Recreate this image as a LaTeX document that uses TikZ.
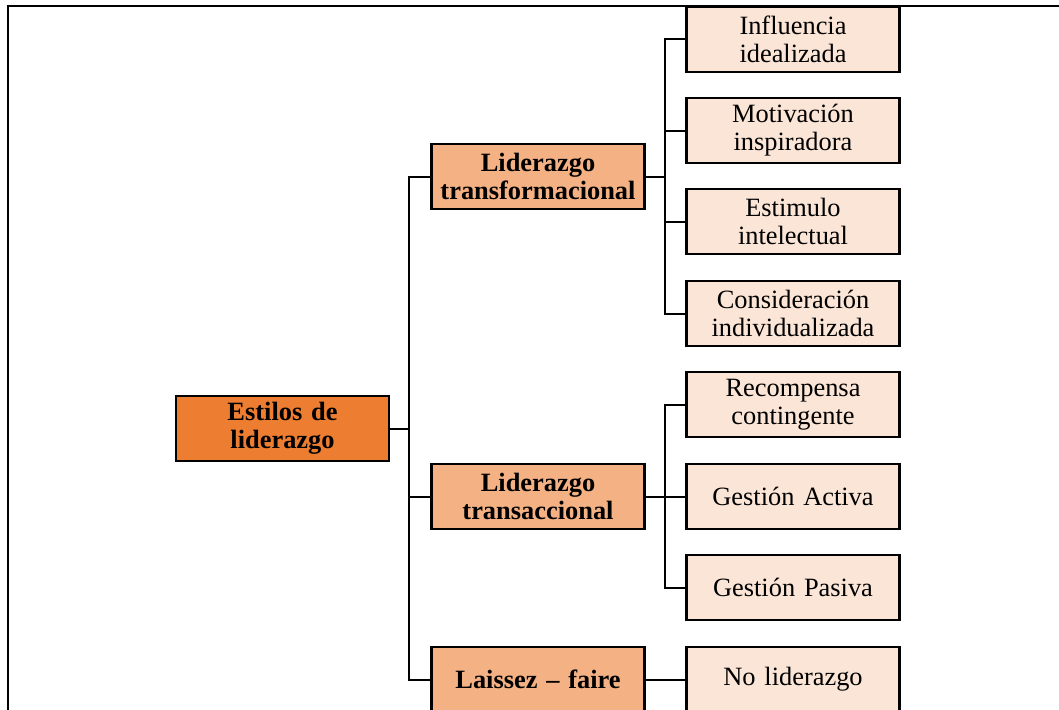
\documentclass[tikz,border=0pt]{standalone}
\usepackage{fontspec}
\setmainfont{Liberation Serif}
\definecolor{rootfill}{HTML}{ED7D31}
\definecolor{midfill}{HTML}{F4B183}
\definecolor{leaffill}{HTML}{FBE5D6}
\begin{document}
\begin{tikzpicture}[x=1pt,y=-1pt,
  box/.style={draw=black, line width=2.2pt, minimum width=213pt, minimum height=65pt,
    text width=205pt, align=center, inner sep=0pt,
    font=\fontsize{26.4}{28}\selectfont},
  rootbox/.style={box, fill=rootfill, font=\fontsize{26.4}{28}\selectfont\bfseries},
  midbox/.style={box, fill=midfill, font=\fontsize{26.4}{28}\selectfont\bfseries},
  leafbox/.style={box, fill=leaffill},
  link/.style={draw=black, line width=2pt}]
\useasboundingbox (0,0) rectangle (1059,709);
\begin{scope}
\clip (0,0) rectangle (1059,709);
% outer frame (top and left edges)
\draw[line width=2pt] (8,712) -- (8,6) -- (1062,6);

% root
\node[rootbox] (root) at (282.5,428.5) {Estilos de\\liderazgo};

% second level
\node[midbox] (trf) at (538,176.5) {Liderazgo\\transformacional};
\node[midbox] (trc) at (538,496.5) {Liderazgo\\transaccional};
\node[midbox] (lf)  at (538,679.5) {Laissez – faire};

% third level
\node[leafbox] (a1) at (793,39.5)  {Influencia\\idealizada};
\node[leafbox] (a2) at (793,130.5) {Motivación\\inspiradora};
\node[leafbox] (a3) at (793,221.5) {Estimulo\\intelectual};
\node[leafbox] (a4) at (793,313.5) {Consideración\\individualizada};
\node[leafbox] (b1) at (793,404.5) {Recompensa\\contingente};
\node[leafbox] (b2) at (793,496.5) {Gestión Activa};
\node[leafbox] (b3) at (793,587.5) {Gestión Pasiva};
\node[leafbox] (c1) at (793,679.5) {No liderazgo};

% bus lines
\coordinate (trunk) at (409,0);
\coordinate (busA) at (665,0);

\draw[link] (root.east) -- (root.east -| trunk);
\draw[link] (trf.west) -- (trf.west -| trunk) -- (lf.west -| trunk) -- (lf.west);
\draw[link] (trc.west) -- (trc.west -| trunk);

\draw[link] (trf.east) -- (trf.east -| busA);
\draw[link] (a1.west) -- (a1.west -| busA) -- (a4.west -| busA) -- (a4.west);
\draw[link] (a2.west) -- (a2.west -| busA);
\draw[link] (a3.west) -- (a3.west -| busA);

\draw[link] (trc.east) -- (trc.east -| busA);
\draw[link] (b1.west) -- (b1.west -| busA) -- (b3.west -| busA) -- (b3.west);
\draw[link] (b2.west) -- (b2.west -| busA);

\draw[link] (lf.east) -- (c1.west);
\end{scope}
\end{tikzpicture}
\end{document}
